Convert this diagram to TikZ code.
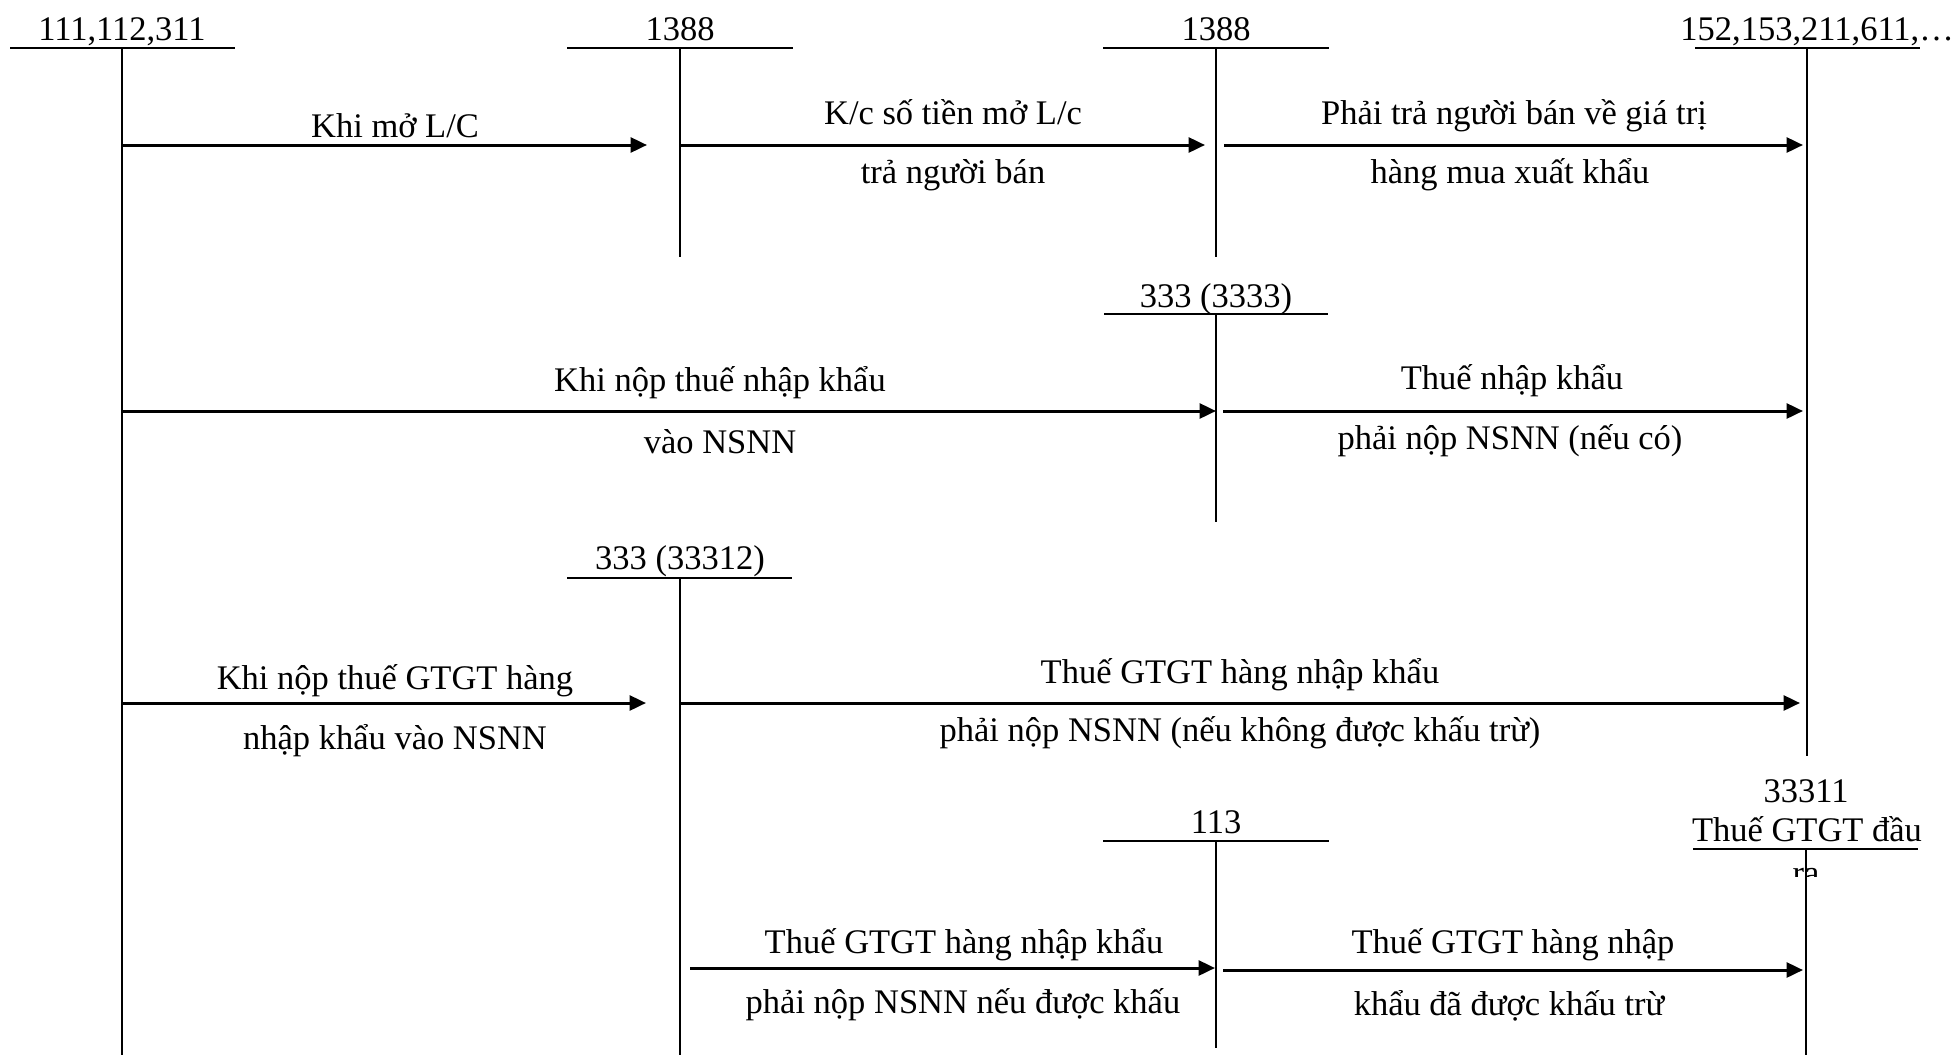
\documentclass[tikz,border=0pt]{standalone}
\usepackage{fontspec}
\setmainfont{Liberation Serif}
\usetikzlibrary{arrows.meta}
\tikzset{
  acct/.style={line width=0.9pt},
  flow/.style={line width=1.5pt,-{Triangle[length=8.25pt,width=7.5pt]}},
  lbl/.style={anchor=base,inner sep=0pt,font=\fontsize{17.25}{20}\selectfont},
}
\begin{document}
\begin{tikzpicture}[x=0.5pt,y=-0.5pt]
\useasboundingbox (0,0) rectangle (1955,1055);
% T-account heads (top of vertical line)
\coordinate (A) at (122,48);
\coordinate (B) at (680,48);
\coordinate (C) at (1216,48);
\coordinate (D) at (1807,48);
\coordinate (E) at (1216,314);
\coordinate (F) at (680,578);
\coordinate (G) at (1216,841);
\coordinate (H) at (1806,849);
% labels
\node[lbl] (tA) at (122,40) {111,112,311};
\node[lbl] (tB) at (680,40) {1388};
\node[lbl] (tC) at (1216,40) {1388};
\node[lbl,anchor=base west] (tD) at (1680,40) {152,153,211,611,…};
\node[lbl] (tE) at (1216,307) {333 (3333)};
\node[lbl] (tF) at (680,569) {333 (33312)};
\node[lbl] (tG) at (1216,833) {113};
\node[lbl] (tH1) at (1806,802) {33311};
\node[lbl] (tH2) at (1807,841) {Thuế GTGT đầu};
\begin{scope}
  \clip (1700,850) rectangle (1910,876);
  \node[lbl] (tH3) at (1806,884) {ra};
\end{scope}
% horizontal bars
\draw[acct] (10,48) -- (235,48);
\draw[acct] (567,48) -- (793,48);
\draw[acct] (1103,48) -- (1329,48);
\draw[acct] (1695,48) -- (1920,48);
\draw[acct] (1104,314) -- (1328,314);
\draw[acct] (567,578) -- (792,578);
\draw[acct] (1103,841) -- (1329,841);
\draw[acct] (1693,849) -- (1918,849);
% vertical lines
\draw[acct] (A) -- (A |- 0,1055);
\draw[acct] (B) -- (B |- 0,257);
\draw[acct] (C) -- (C |- 0,257);
\draw[acct] (D) -- (D |- 0,756);
\draw[acct] (E) -- (E |- 0,522);
\draw[acct] (F) -- (F |- 0,1055);
\draw[acct] (G) -- (G |- 0,1048);
\draw[acct] (H) -- (H |- 0,1055);
% arrow end points
\coordinate (a1s) at (122,145);  \coordinate (a1e) at (647,145);
\coordinate (a2s) at (680,145);  \coordinate (a2e) at (1205,145);
\coordinate (a3s) at (1224,145); \coordinate (a3e) at (1803,145);
\coordinate (a4s) at (122,411);  \coordinate (a4e) at (1216,411);
\coordinate (a5s) at (1223,411); \coordinate (a5e) at (1803,411);
\coordinate (a6s) at (122,703);  \coordinate (a6e) at (646,703);
\coordinate (a7s) at (680,703);  \coordinate (a7e) at (1800,703);
\coordinate (a8s) at (690,968);  \coordinate (a8e) at (1215,968);
\coordinate (a9s) at (1223,970); \coordinate (a9e) at (1803,970);
\draw[flow] (a1s) -- (a1e);
\draw[flow] (a2s) -- (a2e);
\draw[flow] (a3s) -- (a3e);
\draw[flow] (a4s) -- (a4e);
\draw[flow] (a5s) -- (a5e);
\draw[flow] (a6s) -- (a6e);
\draw[flow] (a7s) -- (a7e);
\draw[flow] (a8s) -- (a8e);
\draw[flow] (a9s) -- (a9e);
% arrow labels
\node[lbl] (l1) at (395,137) {Khi mở L/C};
\node[lbl] (l2a) at (953,124) {K/c số tiền mở L/c};
\node[lbl] (l2b) at (953,183) {trả người bán};
\node[lbl] (l3a) at (1514,124) {Phải trả người bán về giá trị};
\node[lbl] (l3b) at (1510,183) {hàng mua xuất khẩu};
\node[lbl] (l4a) at (720,391) {Khi nộp thuế nhập khẩu};
\node[lbl] (l4b) at (720,453) {vào NSNN};
\node[lbl] (l5a) at (1512,389) {Thuế nhập khẩu};
\node[lbl] (l5b) at (1510,449) {phải nộp NSNN (nếu có)};
\node[lbl] (l6a) at (395,689) {Khi nộp thuế GTGT hàng};
\node[lbl] (l6b) at (395,749) {nhập khẩu vào NSNN};
\node[lbl] (l7a) at (1240,683) {Thuế GTGT hàng nhập khẩu};
\node[lbl] (l7b) at (1240,741) {phải nộp NSNN (nếu không được khấu trừ)};
\node[lbl] (l8a) at (964,953) {Thuế GTGT hàng nhập khẩu};
\node[lbl] (l8b) at (963,1013) {phải nộp NSNN nếu được khấu};
\node[lbl] (l9a) at (1513,953) {Thuế GTGT hàng nhập};
\node[lbl] (l9b) at (1509,1015) {khẩu đã được khấu trừ};
\end{tikzpicture}
\end{document}
